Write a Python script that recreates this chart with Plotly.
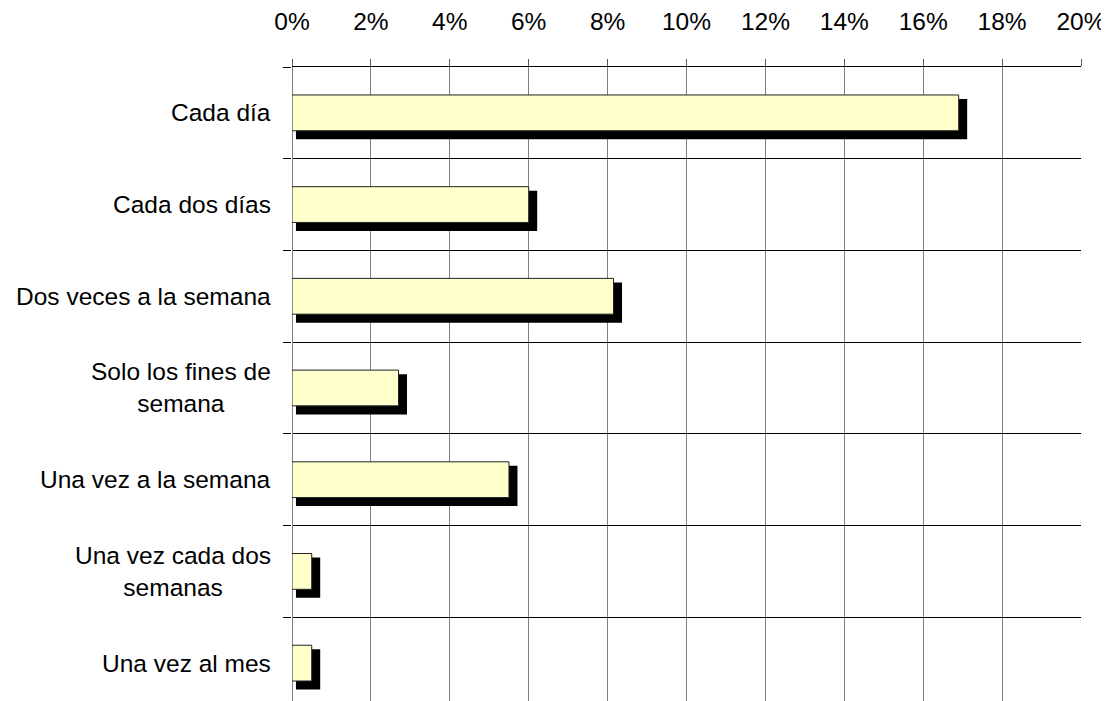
import plotly.graph_objects as go

categorias = [
    "Cada día",
    "Cada dos días",
    "Dos veces a la semana",
    "Solo los fines de<br>semana",
    "Una vez a la semana",
    "Una vez cada dos<br>semanas",
    "Una vez al mes",
]
porcentajes = [16.9, 6.0, 8.15, 2.7, 5.5, 0.5, 0.5]

FUENTE = "Liberation Sans, Arial, sans-serif"
TAM = 24.5
ancho_barra = 0.39

fig = go.Figure()

# sombra negra desplazada detrás de cada barra
fig.add_trace(go.Bar(
    y=categorias,
    x=[v + 0.115 for v in porcentajes],
    base=0.1,
    orientation="h",
    width=ancho_barra + 0.049,
    offset=-ancho_barra / 2 + 0.044,
    marker=dict(color="black", line=dict(width=0)),
    hoverinfo="skip",
    showlegend=False,
))

fig.add_trace(go.Bar(
    y=categorias,
    x=porcentajes,
    orientation="h",
    width=ancho_barra,
    offset=-ancho_barra / 2,
    marker=dict(color="#FFFFCC", line=dict(color="#222222", width=1)),
    showlegend=False,
))

# etiquetas de categoría centradas (las de plotly van alineadas a la derecha)
for cat in categorias:
    fig.add_annotation(
        x=0, xref="paper", y=cat, yref="y",
        text=cat, showarrow=False,
        xanchor="right", xshift=-19, align="center",
        font=dict(family=FUENTE, size=TAM, color="black"),
    )

# la página añade 8 px de margen al body, por eso 1101x693
fig.update_layout(
    width=1101,
    height=693,
    barmode="overlay",
    plot_bgcolor="white",
    paper_bgcolor="white",
    margin=dict(l=284, r=28, t=59, b=0),
    font=dict(family=FUENTE, size=TAM, color="black"),
)

fig.update_xaxes(
    side="top",
    range=[0, 20],
    dtick=2,
    ticksuffix="%",
    automargin=False,
    showgrid=True,
    gridcolor="#808080",
    gridwidth=1,
    zeroline=True,
    zerolinecolor="#808080",
    zerolinewidth=1,
    showline=True,
    linecolor="black",
    linewidth=1,
    ticks="outside",
    ticklen=7,
    tickcolor="#555555",
    ticklabelstandoff=19,
)

fig.update_yaxes(
    type="category",
    range=[6.413, -0.5],
    tickson="boundaries",
    automargin=False,
    showgrid=True,
    gridcolor="black",
    gridwidth=1,
    ticks="outside",
    ticklen=8,
    tickcolor="black",
    showticklabels=False,
    showline=False,
)

fig.write_html("out.html")
